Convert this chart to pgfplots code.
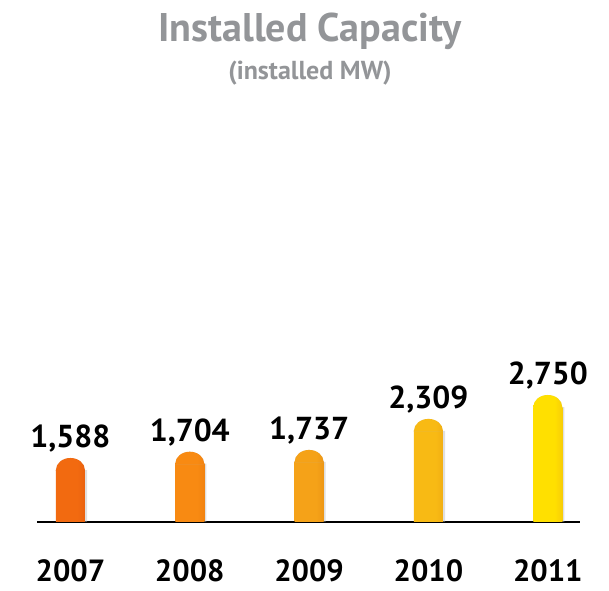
\documentclass[border=0pt]{standalone}
\usepackage{pgfplots}
\pgfplotsset{compat=1.18}
\usepackage{fontspec}
\setmainfont{PT Sans}
\definecolor{titlegray}{HTML}{939598}
\definecolor{eA}{HTML}{DC500A}\definecolor{mA}{HTML}{F26A10}
\definecolor{eB}{HTML}{E6740C}\definecolor{mB}{HTML}{F88A12}
\definecolor{eC}{HTML}{DE8210}\definecolor{mC}{HTML}{F5A218}
\definecolor{eD}{HTML}{E69A10}\definecolor{mD}{HTML}{F8BA14}
\definecolor{eE}{HTML}{EAAA14}\definecolor{mE}{HTML}{FFE000}
\definecolor{shadowc}{HTML}{B8B8B8}
\pgfdeclarehorizontalshading{shA}{100bp}{color(0bp)=(eA); color(14bp)=(mA); color(62bp)=(mA); color(100bp)=(eA)}
\pgfdeclarehorizontalshading{shB}{100bp}{color(0bp)=(eB); color(14bp)=(mB); color(62bp)=(mB); color(100bp)=(eB)}
\pgfdeclarehorizontalshading{shC}{100bp}{color(0bp)=(eC); color(14bp)=(mC); color(62bp)=(mC); color(100bp)=(eC)}
\pgfdeclarehorizontalshading{shD}{100bp}{color(0bp)=(eD); color(14bp)=(mD); color(62bp)=(mD); color(100bp)=(eD)}
\pgfdeclarehorizontalshading{shE}{100bp}{color(0bp)=(eE); color(14bp)=(mE); color(62bp)=(mE); color(100bp)=(eE)}
\newcommand{\capmark}[1]{%
  \pgfdeclareplotmark{cap#1}{%
    \pgfpathmoveto{\pgfqpoint{-\pgfplotmarksize}{-0.6pt}}%
    \pgfpathlineto{\pgfqpoint{-\pgfplotmarksize}{0pt}}%
    \pgfpatharc{180}{0}{\pgfplotmarksize and 0.83\pgfplotmarksize}%
    \pgfpathlineto{\pgfqpoint{\pgfplotmarksize}{-0.6pt}}%
    \pgfpathclose
    \pgfshadepath{sh#1}{0}\pgfusepath{discard}}}
\capmark{A}\capmark{B}\capmark{C}\capmark{D}\capmark{E}
\pgfdeclareplotmark{capshadow}{%
    \pgfpathmoveto{\pgfqpoint{-\pgfplotmarksize}{-0.6pt}}%
    \pgfpathlineto{\pgfqpoint{-\pgfplotmarksize}{0pt}}%
    \pgfpatharc{180}{0}{\pgfplotmarksize and 0.83\pgfplotmarksize}%
    \pgfpathlineto{\pgfqpoint{\pgfplotmarksize}{-0.6pt}}%
    \pgfpathclose
    \pgfusepathqfill}
\begin{document}
\begin{tikzpicture}
\useasboundingbox (-27.75pt,-51.75pt) rectangle (429pt,391.5pt);
\begin{axis}[
  at={(0,0)}, anchor=south west,
  scale only axis, width=407.25pt, height=294pt,
  xmin=-0.28, xmax=4.27, ymin=629, ymax=7861,
  clip=false,
  hide y axis,
  axis x line=bottom,
  x axis line style={-, black, line width=0.9pt},
  xtick={0,1,2,3,4},
  xticklabels={2007,2008,2009,2010,2011},
  xtick style={draw=none},
  xticklabel style={anchor=base, inner sep=0pt, yshift=-40.5pt, font=\fontsize{23}{26}\selectfont\bfseries},
  ybar, bar width=21.75pt, bar shift=0pt,
  mark size=10.875pt,
  nodes near coords,
  point meta=explicit symbolic,
  every node near coord/.style={anchor=base, inner sep=0pt, yshift=17pt, black, font=\fontsize{23.8}{26}\selectfont\bfseries},
]
\addplot[draw=none, fill=shadowc, bar shift=1.6pt, mark=capshadow, mark options={fill=shadowc, draw=none}, opacity=0.45, nodes near coords=\empty]
  coordinates {(0,1588) (1,1704) (2,1737) (3,2309) (4,2750)};
\addplot[draw=none, shading=shA, mark=capA] coordinates {(0,1588) [1,588]};
\addplot[draw=none, shading=shB, mark=capB] coordinates {(1,1704) [1,704]};
\addplot[draw=none, shading=shC, mark=capC] coordinates {(2,1737) [1,737]};
\addplot[draw=none, shading=shD, mark=capD] coordinates {(3,2309) [2,309]};
\addplot[draw=none, shading=shE, mark=capE] coordinates {(4,2750) [2,750]};
\end{axis}
\node[titlegray, font=\fontsize{30}{34}\selectfont\bfseries] at (204.75pt,368pt) {Installed Capacity};
\node[titlegray, font=\fontsize{19.5}{22}\selectfont\bfseries] at (204.75pt,337pt) {(installed MW)};
\end{tikzpicture}
\end{document}
